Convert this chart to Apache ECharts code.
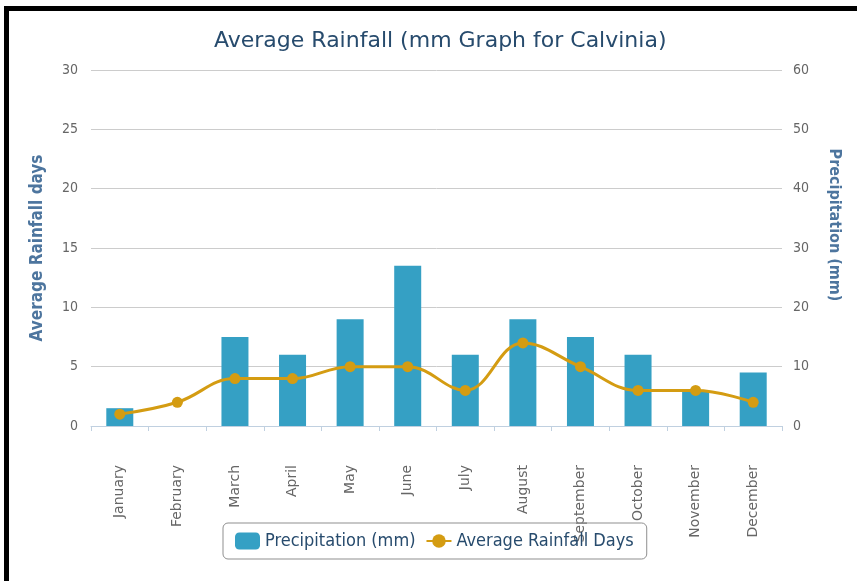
<!DOCTYPE html>
<html>
<head>
<meta charset="utf-8">
<script src="https://cdn.jsdelivr.net/npm/echarts@6/dist/echarts.min.js"></script>
<style>
  html, body { margin: 0; padding: 0; background: #fff; }
  #chart { width: 857px; height: 581px; }
</style>
</head>
<body>
<div id="chart"></div>
<script>
// Monthly climate figures for Calvinia
const months = ['January', 'February', 'March', 'April', 'May', 'June',
                'July', 'August', 'September', 'October', 'November', 'December'];
const precipitationMm = [3, 0, 15, 12, 18, 27, 12, 18, 15, 12, 6, 9];
const rainfallDays = [1, 2, 4, 4, 5, 5, 3, 7, 5, 3, 3, 2];
const daysTicks = { min: 0, max: 30, step: 5 };
const mmTicks = { min: 0, max: 60, step: 10 };

const FONT = '"DejaVu Sans Condensed", "DejaVu Sans", sans-serif';
const FONT_WIDE = '"DejaVu Sans", sans-serif';
const BAR_COLOR = '#35a0c4';
const LINE_COLOR = '#d49c12';

const chart = echarts.init(document.getElementById('chart'), null, { renderer: 'canvas' });

chart.setOption({
  backgroundColor: '#ffffff',
  animation: false,
  textStyle: { fontFamily: FONT },
  title: {
    text: 'Average Rainfall (mm Graph for Calvinia)',
    left: 209,
    top: 25,
    textStyle: { fontFamily: FONT_WIDE, fontSize: 22, fontWeight: 'normal', color: '#274b6d' }
  },
  grid: { left: 91, right: 75, top: 70, bottom: 155, containLabel: false },
  legend: {
    left: 223,
    top: 523,
    padding: [9, 13, 9, 12],
    borderColor: '#8f8f8f',
    borderWidth: 1,
    borderRadius: 5,
    itemGap: 10,
    itemWidth: 25,
    itemHeight: 17,
    textStyle: { fontFamily: FONT, fontSize: 18, color: '#274b6d' },
    data: [
      { name: 'Precipitation (mm)', icon: 'roundRect' },
      { name: 'Average Rainfall Days' }
    ]
  },
  xAxis: {
    type: 'category',
    data: months,
    boundaryGap: true,
    axisLine: { lineStyle: { color: '#c0d0e0', width: 1 } },
    axisTick: { show: true, length: 5, alignWithLabel: false, lineStyle: { color: '#c0d0e0' } },
    axisLabel: {
      rotate: 90,
      interval: 0,
      margin: 39,
      color: '#666666',
      fontFamily: FONT_WIDE,
      fontSize: 14
    }
  },
  yAxis: [
    {
      type: 'value',
      min: daysTicks.min,
      max: daysTicks.max,
      interval: daysTicks.step,
      position: 'left',
      name: 'Average Rainfall days',
      nameLocation: 'middle',
      nameGap: 45,
      nameTextStyle: { fontFamily: FONT, fontSize: 17, fontWeight: 'bold', color: '#4d759e' },
      axisLine: { show: false },
      axisTick: { show: false },
      axisLabel: { color: '#666666', fontFamily: FONT, fontSize: 14, margin: 13 },
      splitLine: { lineStyle: { color: '#cccccc', width: 1 } }
    },
    {
      type: 'value',
      min: mmTicks.min,
      max: mmTicks.max,
      interval: mmTicks.step,
      position: 'right',
      name: 'Precipitation (mm)',
      nameLocation: 'middle',
      nameRotate: -90,
      nameGap: 44,
      nameTextStyle: {
        fontFamily: FONT, fontSize: 16, fontWeight: 'bold', color: '#4d759e',
        padding: [0, 46, 0, 0]
      },
      axisLine: { show: false },
      axisTick: { show: false },
      axisLabel: { color: '#666666', fontFamily: FONT, fontSize: 14, margin: 11 },
      splitLine: { show: false }
    }
  ],
  series: [
    {
      name: 'Precipitation (mm)',
      type: 'bar',
      yAxisIndex: 1,
      data: precipitationMm,
      barWidth: 27,
      itemStyle: { color: BAR_COLOR }
    },
    {
      name: 'Average Rainfall Days',
      type: 'line',
      yAxisIndex: 0,
      data: rainfallDays,
      smooth: 0.4,
      symbol: 'circle',
      symbolSize: 11,
      lineStyle: { color: LINE_COLOR, width: 3 },
      itemStyle: { color: LINE_COLOR }
    }
  ],
  graphic: [
    // dark frame along the top and left edges
    { type: 'rect', left: 4, top: 6, shape: { width: 853, height: 5 }, style: { fill: '#000' }, z: 100 },
    { type: 'rect', left: 4, top: 6, shape: { width: 5, height: 575 }, style: { fill: '#000' }, z: 100 }
  ]
});
</script>
</body>
</html>
